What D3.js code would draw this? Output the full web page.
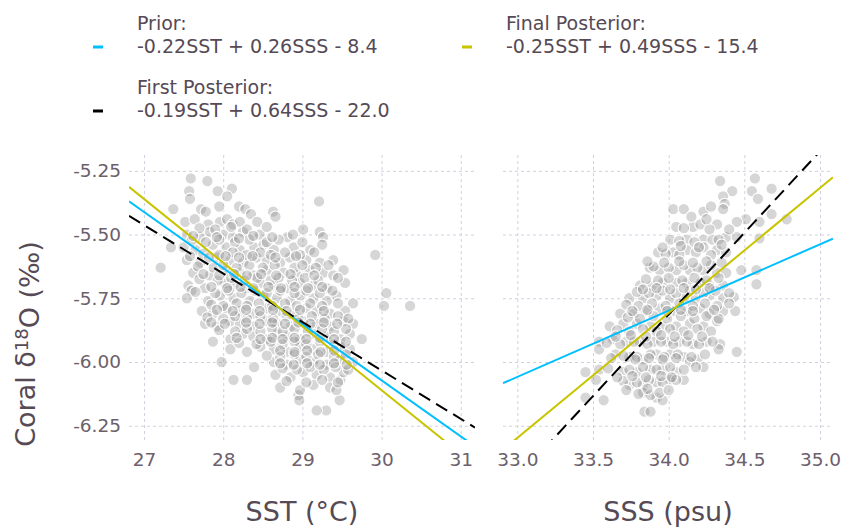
<!DOCTYPE html>
<html>
<head>
<meta charset="utf-8">
<script src="https://cdn.jsdelivr.net/npm/d3@7"></script>
<style>
  body { margin: 0; background: #fff; }
  text { font-family: "DejaVu Sans", sans-serif; }
</style>
</head>
<body>
<script>
// fitted relations (slopes per predictor), drawn through the sample means
const fitNames = ["Prior:", "First Posterior:", "Final Posterior:"];
const fitEquations = ["-0.22SST + 0.26SSS - 8.4", "-0.19SST + 0.64SSS - 22.0", "-0.25SST + 0.49SSS - 15.4"];
const sstSlopes = [-0.22, -0.19, -0.25];
const sssSlopes = [0.26, 0.64, 0.49];
const fitColors = ["#00bfff", "#000000", "#c8c400"];
const meanSST = 28.71, meanSSS = 34.04, meanD18O = -5.788;

const sstTicks = [27, 28, 29, 30, 31];
const sssTicks = [33.0, 33.5, 34.0, 34.5, 35.0];
const d18oTicks = [-5.25, -5.5, -5.75, -6.0, -6.25];

const sstPoints = [
  [27.21,-5.63],[27.37,-5.40],[27.34,-5.55],[27.59,-5.28],[27.57,-5.33],[27.58,-5.36],[27.80,-5.29],[27.93,-5.33],
  [28.11,-5.32],[28.05,-5.35],[29.21,-5.37],[28.63,-5.41],[28.66,-5.43],[29.92,-5.58],[30.06,-5.73],[30.03,-5.78],
  [30.36,-5.78],[29.30,-6.19],[29.18,-6.19],[28.30,-6.07],[28.13,-6.07],[27.98,-6.00],[27.87,-5.92],[28.39,-6.02],
  [28.95,-6.13],[28.96,-6.15],[29.47,-6.15],[29.48,-6.07],[29.64,-5.77],[29.75,-5.91],[29.54,-5.80],[28.66,-6.05],
  [27.72,-5.40],[27.78,-5.41],[27.95,-5.39],[28.20,-5.39],[28.28,-5.40],[28.35,-5.42],
  [27.52,-5.45],[27.64,-5.44],[27.81,-5.46],[27.96,-5.45],[28.05,-5.44],[28.12,-5.46],[28.21,-5.45],[28.43,-5.45],
  [27.54,-5.50],[27.71,-5.51],[27.83,-5.49],[28.00,-5.50],[28.12,-5.51],[28.25,-5.49],[28.46,-5.50],[28.81,-5.51],
  [28.88,-5.50],[29.22,-5.49],[29.26,-5.51],[29.01,-5.48],
  [27.50,-5.55],[27.65,-5.56],[27.87,-5.54],[28.04,-5.55],[28.21,-5.56],[28.39,-5.55],[28.51,-5.54],[28.64,-5.56],
  [28.89,-5.55],[29.10,-5.56],[29.25,-5.54],
  [27.54,-5.60],[27.71,-5.61],[27.92,-5.59],[28.09,-5.60],[28.25,-5.61],[28.42,-5.59],[28.55,-5.60],[28.72,-5.61],
  [28.84,-5.59],[29.05,-5.60],[29.22,-5.61],[29.39,-5.60],
  [27.62,-5.65],[27.83,-5.66],[28.04,-5.64],[28.21,-5.65],[28.38,-5.66],[28.55,-5.64],[28.76,-5.65],[28.93,-5.66],
  [29.09,-5.64],[29.26,-5.65],[29.39,-5.66],[29.52,-5.64],
  [27.56,-5.70],[27.77,-5.71],[28.02,-5.69],[28.13,-5.70],[28.30,-5.71],[28.47,-5.69],[28.64,-5.70],[28.81,-5.71],
  [28.97,-5.69],[29.14,-5.70],[29.31,-5.71],[29.54,-5.69],[27.60,-5.72],
  [27.54,-5.75],[27.81,-5.76],[27.96,-5.74],[28.13,-5.75],[28.34,-5.76],[28.51,-5.74],[28.68,-5.75],[28.85,-5.76],
  [28.97,-5.74],[29.14,-5.75],[29.31,-5.76],[29.43,-5.74],
  [27.73,-5.80],[27.87,-5.81],[28.04,-5.79],[28.21,-5.80],[28.38,-5.81],[28.55,-5.79],[28.72,-5.80],[28.89,-5.81],
  [29.05,-5.79],[29.18,-5.80],[29.35,-5.81],
  [27.77,-5.85],[27.92,-5.86],[28.09,-5.84],[28.21,-5.85],[28.38,-5.86],[28.55,-5.84],[28.68,-5.85],[28.85,-5.86],
  [29.01,-5.84],[29.18,-5.85],[29.35,-5.86],[29.52,-5.84],[29.64,-5.85],
  [28.09,-5.91],[28.25,-5.89],[28.38,-5.90],[28.55,-5.91],[28.68,-5.89],[28.81,-5.90],[28.97,-5.91],[29.14,-5.89],
  [29.31,-5.90],[29.48,-5.91],[29.60,-5.89],
  [28.09,-5.95],[28.30,-5.96],[28.47,-5.94],[28.64,-5.95],[28.81,-5.96],[28.97,-5.94],[29.14,-5.95],[29.31,-5.96],
  [29.48,-5.94],[29.60,-5.95],
  [28.64,-6.00],[28.81,-6.01],[28.97,-5.99],[29.14,-6.00],[29.31,-6.01],[29.48,-5.99],[29.64,-6.00],
  [28.85,-6.06],[29.01,-6.04],[29.18,-6.05],[29.35,-6.06],[29.52,-6.04],
  [28.72,-6.10],[28.97,-6.11],[29.14,-6.09],[29.35,-6.10],[29.43,-6.11],
  [27.70,-5.475],[27.90,-5.48],[28.10,-5.47],[28.30,-5.48],[28.55,-5.47],
  [27.60,-5.525],[27.78,-5.53],[27.95,-5.52],[28.15,-5.53],[28.33,-5.52],[28.55,-5.53],[28.70,-5.52],[29.00,-5.53],
  [27.75,-5.575],[27.95,-5.58],[28.12,-5.57],[28.30,-5.58],[28.47,-5.57],[28.60,-5.58],[28.78,-5.57],[28.97,-5.58],[29.15,-5.57],
  [27.68,-5.625],[27.88,-5.63],[28.00,-5.62],[28.17,-5.63],[28.33,-5.62],[28.50,-5.63],[28.65,-5.62],[28.90,-5.63],
  [29.00,-5.62],[29.17,-5.63],[29.33,-5.62],
  [27.70,-5.675],[27.93,-5.68],[28.10,-5.67],[28.27,-5.68],[28.43,-5.67],[28.60,-5.68],[28.70,-5.67],[28.87,-5.68],
  [29.03,-5.67],[29.20,-5.68],[29.45,-5.67],
  [27.65,-5.725],[27.90,-5.73],[28.07,-5.72],[28.23,-5.73],[28.40,-5.72],[28.55,-5.73],[28.72,-5.72],[28.90,-5.73],
  [29.05,-5.72],[29.22,-5.73],[29.38,-5.72],
  [27.85,-5.775],[28.00,-5.78],[28.17,-5.77],[28.30,-5.78],[28.45,-5.77],[28.62,-5.78],[28.78,-5.77],[28.93,-5.78],
  [29.10,-5.77],[29.25,-5.78],[29.45,-5.77],
  [27.80,-5.825],[28.00,-5.83],[28.15,-5.82],[28.30,-5.83],[28.47,-5.82],[28.63,-5.83],[28.80,-5.82],[28.95,-5.83],
  [29.12,-5.82],[29.28,-5.83],[29.45,-5.82],[29.58,-5.83],
  [27.95,-5.875],[28.15,-5.88],[28.30,-5.87],[28.47,-5.88],[28.62,-5.87],[28.75,-5.88],[28.90,-5.87],[29.07,-5.88],
  [29.25,-5.87],[29.40,-5.88],[29.55,-5.87],
  [28.20,-5.925],[28.42,-5.93],[28.60,-5.92],[28.75,-5.93],[28.90,-5.92],[29.05,-5.93],[29.22,-5.92],[29.40,-5.93],[29.55,-5.92],
  [28.55,-5.975],[28.72,-5.98],[28.90,-5.97],[29.05,-5.98],[29.20,-5.97],[29.40,-5.98],[29.55,-5.97],
  [28.75,-6.025],[28.93,-6.03],[29.10,-6.02],[29.27,-6.03],[29.42,-6.02],[29.58,-6.03],
  [28.80,-6.075],[29.05,-6.08],[29.25,-6.07],[29.45,-6.08],
  [27.62,-5.505],[27.92,-5.51],[28.20,-5.515],[28.38,-5.505],[28.62,-5.51],
  [27.58,-5.585],[27.82,-5.59],[28.03,-5.585],[28.20,-5.59],[28.37,-5.585],[28.66,-5.59],[28.92,-5.585],
  [27.75,-5.655],[27.95,-5.66],[28.14,-5.655],[28.30,-5.66],[28.48,-5.655],[28.67,-5.66],[28.85,-5.655],[29.15,-5.66],
  [27.85,-5.705],[28.05,-5.71],[28.22,-5.705],[28.38,-5.71],[28.57,-5.705],[28.73,-5.71],[28.90,-5.705],[29.07,-5.71],[29.25,-5.705],
  [27.92,-5.795],[28.12,-5.80],[28.29,-5.795],[28.46,-5.80],[28.63,-5.795],[28.80,-5.80],[28.97,-5.795],[29.27,-5.80],
  [27.85,-5.845],[28.02,-5.85],[28.29,-5.845],[28.46,-5.85],[28.62,-5.845],[28.78,-5.85],[28.95,-5.845],[29.10,-5.85],
  [29.27,-5.845],[29.44,-5.85],
  [28.17,-5.905],[28.47,-5.91],[28.62,-5.905],[28.75,-5.91],[28.90,-5.905],[29.05,-5.91],[29.22,-5.905],[29.40,-5.91],
  [28.72,-5.955],[28.90,-5.96],[29.06,-5.955],[29.23,-5.96],[29.40,-5.955],
  [28.72,-6.005],[28.89,-6.01],[29.06,-6.005],[29.22,-6.01],[29.40,-6.005],[29.56,-6.01]
];

const sssPoints = [
  [34.34,-5.29],[34.57,-5.28],[34.42,-5.33],[34.55,-5.33],[34.68,-5.32],[34.59,-5.36],[34.36,-5.35],[34.37,-5.38],
  [34.03,-5.40],[34.10,-5.40],[34.23,-5.41],[34.28,-5.39],[34.36,-5.40],
  [34.51,-5.44],[34.60,-5.45],[34.68,-5.42],[34.78,-5.44],[34.45,-5.45],
  [34.05,-5.47],[34.16,-5.47],[34.21,-5.46],[34.32,-5.46],[34.60,-5.515],
  [34.01,-5.52],[34.12,-5.52],[34.23,-5.52],[34.29,-5.52],[34.38,-5.51],[34.45,-5.51],
  [33.93,-5.57],[34.03,-5.57],[34.12,-5.56],[34.23,-5.55],[34.32,-5.56],[34.38,-5.57],
  [34.58,-5.64],[34.58,-5.695],[34.48,-5.64],
  [33.875,-5.63],[33.94,-5.64],[34.05,-5.64],[34.14,-5.64],[34.23,-5.64],[34.32,-5.65],[34.38,-5.65],
  [33.81,-5.70],[33.89,-5.70],[33.96,-5.69],[34.05,-5.69],[34.12,-5.69],[34.21,-5.69],[34.27,-5.70],[34.36,-5.70],
  [33.74,-5.75],[33.83,-5.75],[33.92,-5.74],[34.01,-5.75],[34.10,-5.75],[34.18,-5.75],[34.27,-5.74],[34.36,-5.75],[34.43,-5.745],
  [33.68,-5.81],[33.77,-5.81],[33.85,-5.80],[33.94,-5.79],[34.03,-5.80],[34.12,-5.80],[34.21,-5.79],[34.27,-5.81],[34.36,-5.80],[34.44,-5.80],
  [33.61,-5.86],[33.70,-5.85],[33.79,-5.85],[33.88,-5.86],[33.96,-5.86],[34.05,-5.86],[34.14,-5.85],[34.23,-5.86],[34.32,-5.84],
  [33.54,-5.92],[33.63,-5.91],[33.72,-5.92],[33.81,-5.92],[33.90,-5.92],[33.99,-5.92],[34.07,-5.92],[34.16,-5.93],
  [34.25,-5.92],[34.34,-5.93],[34.45,-5.96],[34.33,-5.95],[33.54,-5.95],
  [33.65,-5.97],[33.74,-5.98],[33.83,-5.99],[33.92,-5.97],[34.01,-5.97],[34.10,-5.98],[34.19,-5.99],
  [33.45,-6.04],[33.54,-6.03],[33.70,-6.04],[33.79,-6.04],[33.88,-6.03],[33.96,-6.03],[34.05,-6.04],[34.14,-6.00],[34.23,-6.02],
  [33.52,-6.07],[33.74,-6.09],[33.83,-6.09],[33.92,-6.08],[34.01,-6.07],[34.10,-6.07],
  [33.45,-6.14],[33.57,-6.15],[33.83,-6.12],[33.92,-6.14],[33.96,-6.15],
  [33.84,-6.195],[33.88,-6.195],
  [34.10,-5.475],[34.27,-5.48],
  [34.07,-5.525],[34.17,-5.53],[34.33,-5.52],
  [33.98,-5.575],[34.07,-5.58],[34.18,-5.57],[34.28,-5.58],
  [33.90,-5.625],[34.00,-5.63],[34.10,-5.62],[34.19,-5.63],[34.28,-5.62],
  [33.85,-5.675],[33.93,-5.68],[34.00,-5.67],[34.09,-5.68],[34.17,-5.67],[34.25,-5.68],[34.33,-5.67],
  [33.79,-5.725],[33.87,-5.73],[33.96,-5.72],[34.05,-5.73],[34.14,-5.72],[34.23,-5.73],[34.31,-5.72],[34.40,-5.73],
  [33.72,-5.775],[33.80,-5.78],[33.89,-5.77],[33.98,-5.78],[34.07,-5.77],[34.16,-5.78],[34.24,-5.77],[34.32,-5.78],[34.40,-5.77],
  [33.73,-5.825],[33.81,-5.83],[33.90,-5.82],[33.99,-5.83],[34.08,-5.82],[34.17,-5.83],[34.25,-5.82],[34.33,-5.83],
  [33.66,-5.875],[33.74,-5.88],[33.83,-5.87],[33.92,-5.88],[34.01,-5.87],[34.10,-5.88],[34.19,-5.87],[34.28,-5.88],
  [33.59,-5.925],[33.68,-5.93],[33.77,-5.92],[33.86,-5.93],[33.95,-5.92],[34.03,-5.93],[34.12,-5.92],[34.20,-5.93],[34.29,-5.92],
  [33.70,-5.975],[33.79,-5.98],[33.88,-5.97],[33.97,-5.98],[34.06,-5.97],[34.15,-5.98],[34.24,-5.97],
  [33.60,-6.025],[33.74,-6.03],[33.83,-6.02],[33.92,-6.03],[34.01,-6.02],[34.10,-6.03],[34.18,-6.02],
  [33.70,-6.075],[33.79,-6.08],[33.87,-6.07],[33.96,-6.08],[34.05,-6.07],
  [33.80,-6.125],[33.88,-6.13],[33.94,-6.12],
  [34.15,-5.43],[34.25,-5.44],[34.40,-5.48],
  [33.96,-5.55],[34.08,-5.545],[34.20,-5.55],[34.35,-5.54],
  [33.86,-5.605],[33.97,-5.61],[34.07,-5.605],[34.16,-5.61],[34.25,-5.605],[34.35,-5.61],
  [33.83,-5.715],[33.92,-5.71],[34.01,-5.715],[34.10,-5.71],[34.18,-5.715],[34.27,-5.71],
  [33.76,-5.80],[33.86,-5.795],[33.99,-5.80],[34.08,-5.795],[34.16,-5.80],[34.30,-5.795],
  [33.65,-5.90],[33.75,-5.895],[33.85,-5.90],[33.95,-5.895],[34.04,-5.90],[34.13,-5.895],[34.22,-5.90],
  [33.62,-5.985],[33.78,-5.99],[33.87,-5.985],[33.96,-5.99],[34.05,-5.985],
  [33.66,-6.06],[33.76,-6.055],[33.85,-6.06],[33.95,-6.055],[34.02,-6.06],
  [33.72,-6.11],[33.86,-6.105],[34.00,-6.11]
];

const width = 843, height = 527;
const plotTop = 155, plotBottom = 440;

const svg = d3.select("body").append("svg")
  .attr("width", width)
  .attr("height", height);

const y = d3.scaleLinear().domain([-5.188, -6.306]).range([plotTop, plotBottom]);

const panels = [
  { key: "sst", x: d3.scaleLinear().domain([26.81, 31.18]).range([129, 475]),
    ticks: sstTicks, fmt: d => d.toFixed(0), points: sstPoints, slopes: sstSlopes, mean: meanSST, title: "SST (°C)" },
  { key: "sss", x: d3.scaleLinear().domain([32.905, 35.086]).range([503, 833]),
    ticks: sssTicks, fmt: d => d.toFixed(1), points: sssPoints, slopes: sssSlopes, mean: meanSSS, title: "SSS (psu)" }
];

const defs = svg.append("defs");

panels.forEach((p, i) => {
  const [x0, x1] = p.x.range();
  const g = svg.append("g");

  defs.append("clipPath").attr("id", "clip-" + p.key)
    .append("rect").attr("x", x0).attr("y", plotTop).attr("width", x1 - x0).attr("height", plotBottom - plotTop);

  // grid + tick labels
  const xAxis = g.append("g")
    .attr("transform", `translate(0,${plotBottom})`)
    .call(d3.axisBottom(p.x).tickValues(p.ticks).tickFormat(p.fmt)
      .tickSize(-(plotBottom - plotTop)).tickPadding(13));
  const yAxis = g.append("g")
    .attr("transform", `translate(${x0},0)`)
    .call(d3.axisLeft(y).tickValues(d18oTicks).tickFormat(i === 0 ? d => d.toFixed(2) : () => "")
      .tickSize(-(x1 - x0)).tickPadding(8));

  [xAxis, yAxis].forEach(a => {
    a.select(".domain").remove();
    a.selectAll("line")
      .attr("stroke", "#d0d0e0")
      .attr("stroke-width", 1)
      .attr("stroke-dasharray", "3,3");
    a.selectAll("text")
      .attr("fill", "#6c606b")
      .style("font-size", "18.5px");
  });

  // observations
  g.append("g").attr("clip-path", `url(#clip-${p.key})`)
    .selectAll("circle")
    .data(p.points)
    .enter().append("circle")
    .attr("cx", d => p.x(d[0]))
    .attr("cy", d => y(d[1]))
    .attr("r", 5.7)
    .attr("fill", "#8c8c8c")
    .attr("fill-opacity", 0.36)
    .attr("stroke", "#ffffff")
    .attr("stroke-width", 1.1);

  // fitted lines through the means
  const [d0, d1] = p.x.domain();
  g.append("g").attr("clip-path", `url(#clip-${p.key})`)
    .selectAll("line")
    .data(p.slopes)
    .enter().append("line")
    .attr("x1", p.x(d0))
    .attr("x2", p.x(d1))
    .attr("y1", s => y(meanD18O + s * (d0 - p.mean)))
    .attr("y2", s => y(meanD18O + s * (d1 - p.mean)))
    .attr("stroke", (s, k) => fitColors[k])
    .attr("stroke-width", 2)
    .attr("stroke-dasharray", (s, k) => k === 1 ? "13,7" : null);

  svg.append("text")
    .attr("x", (x0 + x1) / 2)
    .attr("y", 521)
    .attr("text-anchor", "middle")
    .attr("fill", "#564a55")
    .style("font-size", "27px")
    .text(p.title);
});

// y axis title
const yTitle = svg.append("text")
  .attr("transform", "translate(35,344) rotate(-90)")
  .attr("text-anchor", "middle")
  .attr("fill", "#564a55")
  .style("font-size", "27px");
yTitle.append("tspan").text("Coral δ");
yTitle.append("tspan").attr("dy", "-0.4em").style("font-size", "18px").text("18");
yTitle.append("tspan").attr("dy", "0.4em").text("O (‰)");

// legend: Prior, First Posterior in first column, Final Posterior in second
const legendCol = [0, 0, 1];
const legendRow = [0, 1, 0];
const legend = svg.append("g").selectAll("g")
  .data(fitNames)
  .enter().append("g")
  .attr("transform", (d, k) => `translate(${legendCol[k] * 369},${legendRow[k] * 64})`);

legend.append("rect")
  .attr("x", 93).attr("y", 45.5)
  .attr("width", 10).attr("height", 3)
  .attr("fill", (d, k) => fitColors[k]);

legend.append("text")
  .attr("x", 137).attr("y", 30)
  .attr("fill", "#564a55")
  .style("font-size", "19px")
  .text(d => d);

legend.append("text")
  .attr("x", 137).attr("y", 53)
  .attr("fill", "#564a55")
  .style("font-size", "19px")
  .text((d, k) => fitEquations[k]);
</script>
</body>
</html>
